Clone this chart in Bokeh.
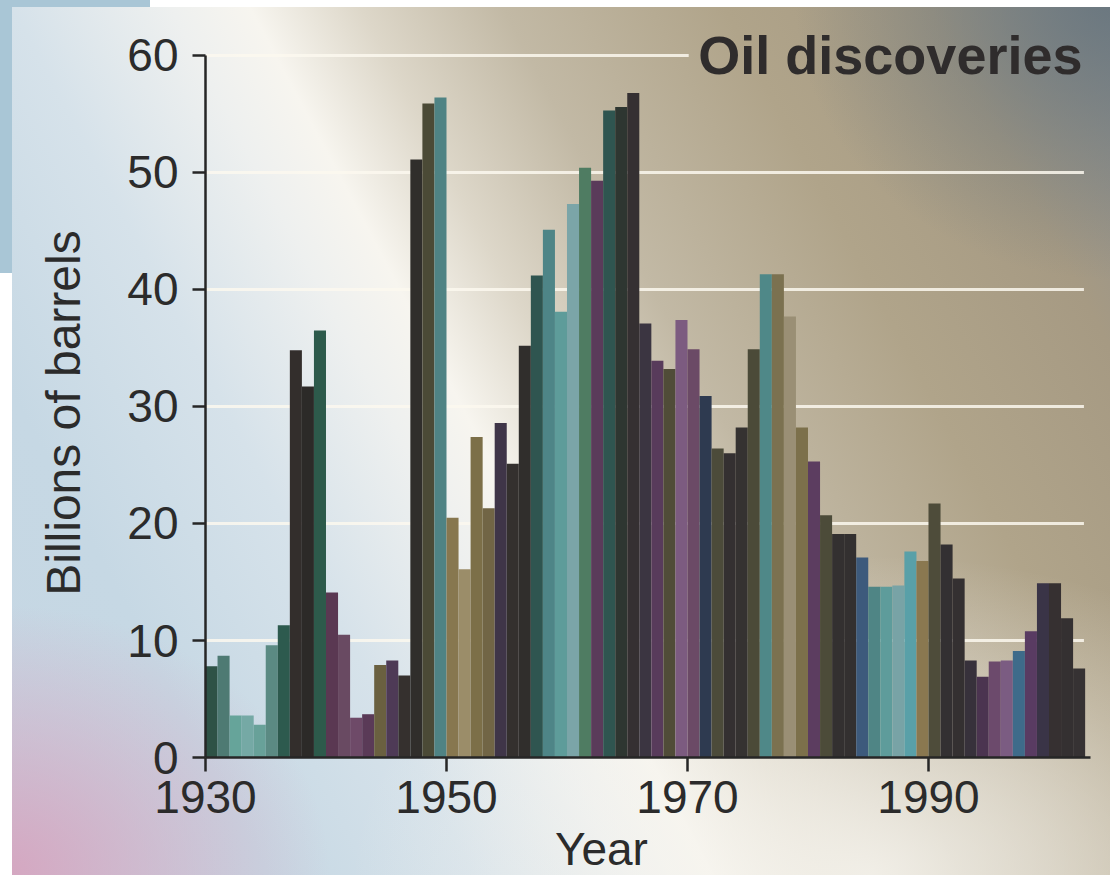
import math
from bokeh.plotting import figure
from bokeh.models import ColumnDataSource, FixedTicker, Range1d, Label
from bokeh.embed import file_html
from bokeh.resources import INLINE

# ---------------- data ----------------
years = list(range(1930, 2003))
discoveries = [
    7.8, 8.7, 3.6, 3.6, 2.8, 9.6, 11.3, 34.8, 31.7, 36.5,      # 1930-1939
    14.1, 10.5, 3.4, 3.7, 7.9, 8.3, 7.0, 51.1, 55.9, 56.4,     # 1940-1949
    20.5, 16.1, 27.4, 21.3, 28.6, 25.1, 35.2, 41.2, 45.1, 38.1,  # 1950-1959
    47.3, 50.4, 49.3, 55.3, 55.6, 56.8, 37.1, 33.9, 33.2, 37.4,  # 1960-1969
    34.9, 30.9, 26.4, 26.0, 28.2, 34.9, 41.3, 41.3, 37.7, 28.2,  # 1970-1979
    25.3, 20.7, 19.1, 19.1, 17.1, 14.6, 14.6, 14.7, 17.6, 16.8,  # 1980-1989
    21.7, 18.2, 15.3, 8.3, 6.9, 8.2, 8.3, 9.1, 10.8, 14.9,     # 1990-1999
    14.9, 11.9, 7.6,                                            # 2000-2002
]
bar_colors = [
    "#2e5246", "#4e7a73", "#66a49a", "#75a9a5", "#68a199", "#5b8a83", "#2d5a4e", "#332e2c", "#2c2a28", "#2d5a4b",
    "#5a3852", "#694a62", "#6e4a68", "#5a3a57", "#6a6040", "#4e3a56", "#35302e", "#302e2b", "#4b4a36", "#4f8384",
    "#87774f", "#9b8d69", "#7c6f48", "#716545", "#3f3548", "#34302e", "#302e2c", "#2f5550", "#4e8587", "#5e9c9a",
    "#7ba5a8", "#4f7c62", "#5a3b5a", "#2f5550", "#2e3631", "#353032", "#3b3541", "#583b5b", "#504c38", "#7c5b80",
    "#6b4a66", "#2e3a50", "#4c4b3a", "#343031", "#353231", "#4b4a38", "#4f8888", "#7b7150", "#9a8f75", "#7c704b",
    "#5c3d60", "#4c4b39", "#333030", "#333030", "#3d5a7c", "#4f8585", "#5e9c9b", "#78a3a6", "#59a0a8", "#8a7850",
    "#4e4c3a", "#333032", "#343031", "#37313b", "#4b3450", "#6c4a6c", "#7b5c82", "#3e6b8a", "#593b62", "#3a3447",
    "#363031", "#343031", "#363233",
]
x_ticks = [1930, 1950, 1970, 1990]
y_ticks = [0, 10, 20, 30, 40, 50, 60]
grid_ticks = [10, 20, 30, 40, 50]
title_text = "Oil discoveries"
x_label = "Year"
y_label = "Billions of barrels"

# ---------------- styling ----------------
FONT = "Liberation Sans"
TEXT = "#2b2b2b"
AXIS = "#262626"
GRID = "#fbf8ef"

X0, X1 = 1930, 2003.44     # extent of the x axis line
Y0, Y1 = 0, 60             # extent of the y axis line

background = ", ".join([
    "linear-gradient(to right, #a9c6d6 0px, #a9c6d6 150px, #ffffff 150px) left top / 100% 7px no-repeat",
    "linear-gradient(to bottom, #a9c6d6 0px, #a9c6d6 273px, #ffffff 273px) left top / 12px 100% no-repeat",
    "linear-gradient(#ffffff, #ffffff) right top / 5px 100% no-repeat",
    "radial-gradient(ellipse 330px 270px at 0% 100%, rgba(214,163,190,0.95), rgba(214,163,190,0))",
    "radial-gradient(ellipse 320px 280px at 100% 0%, rgba(100,115,125,0.85), rgba(100,115,125,0))",
    "radial-gradient(ellipse 520px 320px at 78% 100%, rgba(246,244,238,0.85), rgba(246,244,238,0))",
    "linear-gradient(62deg, #c5d6e3 0%, #c6d8e4 17%, #d6e2ea 30%, #eef0ef 40%, #f7f5ef 45%, "
    "#ddd7c9 52%, #c2b9a5 61%, #b0a48a 75%, #a69a83 88%, #8e9090 100%)",
])

# the frame covers the whole canvas; axes are pinned at the data origin
p = figure(
    width=1115, height=875,
    output_backend="svg", toolbar_location=None,
    x_range=Range1d(1912.988, 2005.519), y_range=Range1d(-10.085, 64.70),
    min_border=0,
    background_fill_alpha=0, border_fill_alpha=0, outline_line_color=None,
    styles={"background": background},
)
p.min_border_left = 0
p.min_border_right = 0
p.min_border_top = 0
p.min_border_bottom = 0

p.xgrid.visible = False
p.ygrid.visible = False

# horizontal guide lines
p.segment(x0=[X0] * len(grid_ticks), y0=grid_ticks, x1=[2002.9] * len(grid_ticks), y1=grid_ticks,
          line_color=GRID, line_width=3, line_alpha=0.85)
# top (60) guide line, interrupted by the title
p.segment(x0=[X0], y0=[y_ticks[-1]], x1=[1970.1], y1=[y_ticks[-1]],
          line_color=GRID, line_width=3, line_alpha=0.85)

# bars
src = ColumnDataSource(dict(
    x=[y + 0.5 for y in years],
    top=discoveries,
    color=bar_colors,
))
p.vbar(x="x", top="top", width=1.0, bottom=0, fill_color="color", line_color=None, source=src)

# axes
for ax in (p.xaxis[0], p.yaxis[0]):
    ax.axis_line_color = AXIS
    ax.axis_line_width = 2.5
    ax.major_tick_line_color = AXIS
    ax.major_tick_line_width = 2.5
    ax.major_tick_in = 0
    ax.minor_tick_line_color = None
    ax.major_label_text_font = FONT
    ax.major_label_text_font_size = "46px"
    ax.major_label_text_color = TEXT

p.xaxis.ticker = FixedTicker(ticks=x_ticks)
p.xaxis.fixed_location = Y0
p.xaxis.bounds = (X0, X1)
p.xaxis.major_tick_out = 14
p.xaxis.major_label_standoff = 9

p.yaxis.ticker = FixedTicker(ticks=y_ticks)
p.yaxis.fixed_location = X0
p.yaxis.bounds = (Y0, Y1)
p.yaxis.major_tick_out = 13
p.yaxis.major_label_standoff = 14

# texts
p.add_layout(Label(x=2002.78, y=60.06, text=title_text, text_align="right",
                   text_baseline="middle", text_font=FONT, text_font_style="bold",
                   text_font_size="54px", text_color="#2f2c2c"))
p.add_layout(Label(x=1962.86, y=-7.86, text=x_label, text_align="center",
                   text_baseline="middle", text_font=FONT,
                   text_font_size="46px", text_color=TEXT))
p.add_layout(Label(x=1918.2, y=29.44, text=y_label, text_align="center",
                   text_baseline="middle", angle=math.pi / 2, text_font=FONT,
                   text_font_size="48px", text_color=TEXT))

open("out.html", "w").write(file_html(p, INLINE))
